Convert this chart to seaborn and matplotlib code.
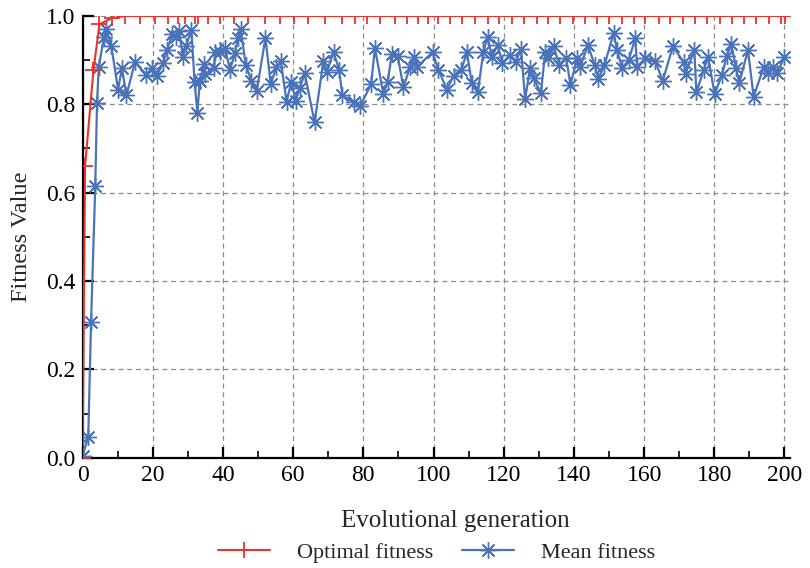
import numpy as np
import pandas as pd
import matplotlib
matplotlib.use("Agg")
import matplotlib.pyplot as plt
from matplotlib.ticker import MultipleLocator
import seaborn as sns

# ── Data ─────────────────────────────────────────────────────────────
optimal_gen = [0, 0.7, 3.1, 4.8, 8.3, 12.2, 16.3, 20.7, 24.3, 27.2, 29.1, 31.9,
               32.9, 35.8, 39.1, 43.1, 47.2, 52.1, 56.2, 60.2, 64.1, 69.1, 73.8,
               77.6, 80.9, 84.7, 89.0, 92.3, 95.6, 98.5, 101.4, 104.8, 108.1,
               111.9, 115.4, 118.7, 122.3, 125.9, 129.4, 132.7, 136.1, 139.6,
               143.2, 146.6, 150.1, 153.7, 157.0, 160.3, 164.1, 167.5, 171.0,
               174.6, 177.9, 181.5, 185.1, 188.4, 192.0, 195.5, 199.0, 200.2]
optimal_fit = [0.0, 0.66, 0.878, 0.981, 0.995] + [1.0] * (len(optimal_gen) - 5)

mean_gen = [0, 1.6, 2.4, 3.6, 4.1, 4.6, 6.1, 6.8, 8.2, 10.1, 11.2, 12.5, 14.9,
            18.2, 19.8, 21.2, 22.9, 24.1, 25.5, 26.7, 27.5, 28.6, 29.4, 31.0,
            31.9, 32.7, 33.4, 34.7, 34.9, 37.5, 37.7, 39.1, 40.5, 42.0, 43.4,
            44.3, 45.0, 46.5, 48.1, 49.6, 52.1, 53.6, 55.2, 56.5, 58.1, 59.5,
            60.7, 61.9, 63.3, 66.1, 68.6, 69.6, 71.5, 73.1, 74.0, 77.2, 79.0,
            82.2, 83.3, 85.7, 86.9, 88.1, 89.8, 91.4, 93.3, 94.5, 95.4, 99.7,
            101.4, 103.8, 105.7, 107.9, 109.5, 110.9, 112.6, 114.2, 115.4,
            116.6, 118.3, 119.6, 121.8, 123.4, 124.9, 126.1, 127.5, 128.5,
            130.6, 131.8, 132.7, 134.2, 135.8, 137.8, 139.0, 140.9, 141.8,
            144.0, 145.9, 147.0, 148.7, 151.3, 152.3, 153.7, 155.6, 157.5,
            158.0, 160.3, 163.2, 165.3, 168.2, 171.3, 171.8, 174.3, 174.9,
            177.0, 178.2, 180.1, 182.2, 183.6, 184.8, 186.2, 187.1, 189.6,
            191.2, 194.1, 195.3, 196.6, 197.9, 200.0]
mean_fit = [0.005, 0.047, 0.307, 0.615, 0.802, 0.885, 0.953, 0.971, 0.931, 0.833,
            0.882, 0.820, 0.895, 0.867, 0.883, 0.865, 0.893, 0.923, 0.959, 0.952,
            0.966, 0.908, 0.931, 0.968, 0.851, 0.780, 0.853, 0.891, 0.868, 0.883,
            0.918, 0.919, 0.928, 0.878, 0.916, 0.950, 0.971, 0.889, 0.853, 0.830,
            0.950, 0.845, 0.885, 0.897, 0.806, 0.851, 0.808, 0.837, 0.870, 0.759,
            0.897, 0.874, 0.918, 0.878, 0.820, 0.805, 0.795, 0.845, 0.927, 0.823,
            0.850, 0.913, 0.910, 0.838, 0.885, 0.908, 0.885, 0.918, 0.878, 0.833,
            0.865, 0.878, 0.918, 0.848, 0.827, 0.919, 0.952, 0.908, 0.934, 0.893,
            0.912, 0.895, 0.925, 0.812, 0.883, 0.860, 0.825, 0.918, 0.904, 0.931,
            0.890, 0.905, 0.844, 0.904, 0.885, 0.934, 0.889, 0.857, 0.889, 0.961,
            0.923, 0.882, 0.900, 0.950, 0.885, 0.904, 0.897, 0.853, 0.931, 0.895,
            0.869, 0.923, 0.827, 0.878, 0.908, 0.823, 0.867, 0.910, 0.936, 0.882,
            0.848, 0.923, 0.817, 0.885, 0.870, 0.885, 0.870, 0.908]

RED = "#e8332b"
BLUE = "#4a72b8"

# ── Style ────────────────────────────────────────────────────────────
sns.set_theme(style="ticks")
plt.rcParams["font.family"] = ["Liberation Serif", "DejaVu Serif"]

fig = plt.figure(figsize=(8.1, 5.68), dpi=100)
ax = fig.add_axes([0.102, 0.194, 0.873, 0.778])

opt_df = pd.DataFrame({"gen": optimal_gen, "fit": optimal_fit})
mean_df = pd.DataFrame({"gen": mean_gen, "fit": mean_fit})

sns.lineplot(data=opt_df, x="gen", y="fit", ax=ax, color=RED, linewidth=1.5,
             marker="+", markersize=11, markeredgewidth=1.3, markeredgecolor=RED,
             estimator=None, sort=False, label="Optimal fitness", zorder=4)
sns.lineplot(data=mean_df, x="gen", y="fit", ax=ax, color=BLUE, linewidth=1.6,
             marker=(8, 2, 0), markersize=12, markeredgewidth=1.0,
             markeredgecolor=BLUE, estimator=None, sort=False,
             label="Mean fitness", zorder=3)

ax.set_xlim(0, 201.5)
ax.set_ylim(0, 1.0)
ax.xaxis.set_major_locator(MultipleLocator(20))
ax.xaxis.set_minor_locator(MultipleLocator(10))
ax.yaxis.set_major_locator(MultipleLocator(0.2))
ax.yaxis.set_minor_locator(MultipleLocator(0.1))
ax.yaxis.set_major_formatter(matplotlib.ticker.FormatStrFormatter("%.1f"))

ax.grid(True, which="major", linestyle=(0, (4, 3)), color="#8c8c8c", linewidth=0.9)
ax.xaxis.get_gridlines()[-1].set_visible(False)
ax.set_axisbelow(True)

for side in ["top", "right"]:
    ax.spines[side].set_visible(False)
for side in ["left", "bottom"]:
    ax.spines[side].set_linewidth(1.6)
    ax.spines[side].set_color("black")

ax.tick_params(which="major", direction="in", length=8, width=1.6,
               labelsize=17, colors="black", pad=5)
ax.tick_params(which="minor", direction="in", length=5, width=1.2, colors="black")

ax.set_xlabel("Evolutional generation", fontsize=18)
ax.xaxis.set_label_coords(0.527, -0.118)
ax.set_ylabel("Fitness Value", fontsize=17.5, labelpad=10)

ax.legend(loc="upper center", bbox_to_anchor=(0.5, -0.172), ncol=2,
          frameon=False, fontsize=16, handlelength=2.35, handletextpad=1.2,
          columnspacing=1.3, borderaxespad=0)

fig.savefig("out.png", dpi=100)
